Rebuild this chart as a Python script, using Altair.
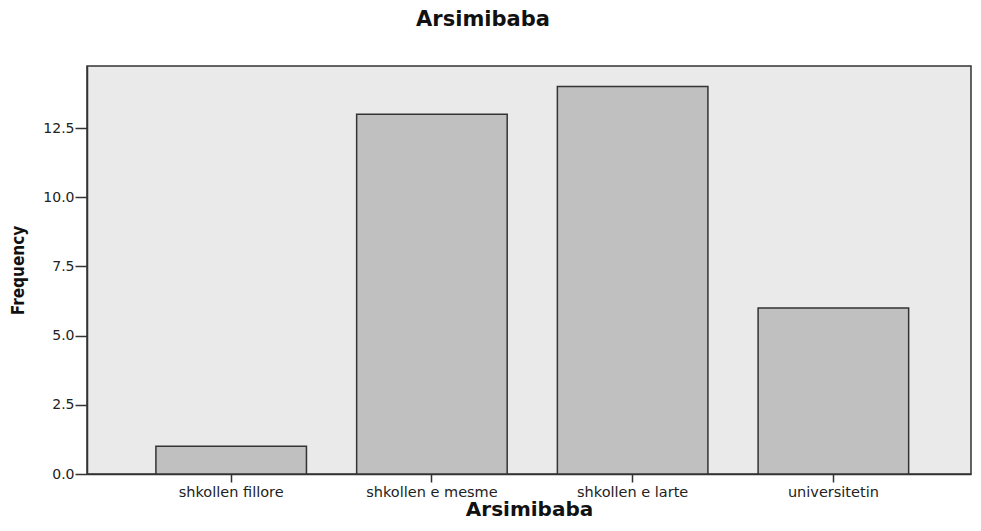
import altair as alt
import pandas as pd

categories = ["shkollen fillore", "shkollen e mesme", "shkollen e larte", "universitetin"]
frequencies = [1, 13, 14, 6]
y_ticks = [0.0, 2.5, 5.0, 7.5, 10.0, 12.5]

df = pd.DataFrame({"Arsimibaba": categories, "Frequency": frequencies})

font = "DejaVu Sans"
cond = "DejaVu Sans Condensed, DejaVu Sans"

chart = alt.Chart(df).mark_bar(
    fill="#C0C0C0", stroke="#333333", strokeWidth=1.5
).encode(
    x=alt.X("Arsimibaba:N", sort=categories,
            scale=alt.Scale(paddingInner=0.25, paddingOuter=0.327, align=0.525),
            axis=alt.Axis(title="Arsimibaba", labelAngle=0, labelFont=font, labelFontSize=14.5,
                          labelColor="#222222", labelPadding=3,
                          titleFont=font, titleFontSize=20, titleFontWeight="bold",
                          titleBaseline="alphabetic", titlePadding=17, titleColor="#111111",
                          domainColor="#333333", domainWidth=1.5,
                          tickColor="#333333", tickSize=8, tickWidth=1.5)),
    y=alt.Y("Frequency:Q",
            scale=alt.Scale(domain=[0, 14.74], nice=False, zero=True),
            axis=alt.Axis(title="Frequency", values=y_ticks, format=".1f", grid=False,
                          labelFont=font, labelFontSize=14, labelColor="#222222", labelPadding=1,
                          titleFont=cond, titleFontSize=17, titleFontWeight="bold",
                          titleColor="#111111", titlePadding=15,
                          domainColor="#333333", domainWidth=1.5,
                          tickColor="#333333", tickSize=12, tickWidth=1.5)),
).properties(
    width=884, height=408,
    title=alt.TitleParams("Arsimibaba", font=font, fontSize=21, fontWeight="bold",
                          color="#111111", anchor="middle", dx=-46, offset=36),
    autosize=alt.AutoSizeParams(type="none"),
    padding={"left": 79, "top": 58, "right": 2, "bottom": 49},
).configure_view(
    fill="#EAEAEA", stroke="#333333", strokeWidth=1.5
)

chart.save("out.html", embed_options={"renderer": "svg", "actions": False})
